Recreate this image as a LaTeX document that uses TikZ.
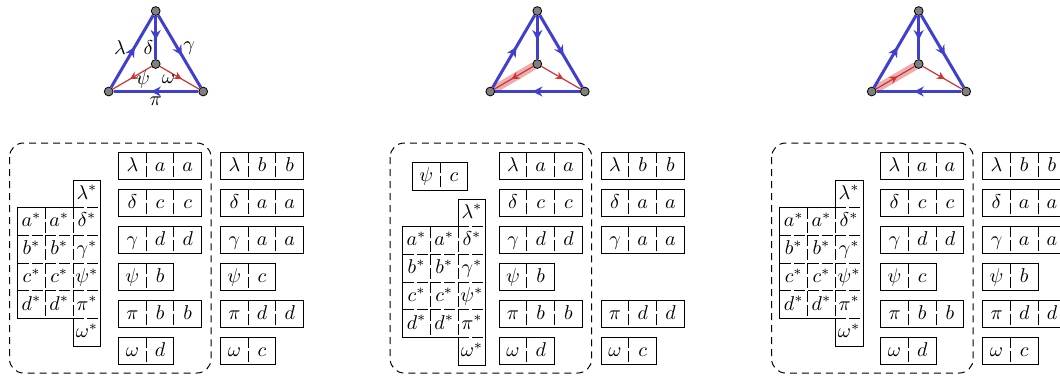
\documentclass[tikz,border=0pt]{standalone}
\usetikzlibrary{decorations.markings,arrows.meta}
\definecolor{edgeblue}{RGB}{64,64,204}
\definecolor{edgered}{RGB}{204,51,51}
\pgfdeclarelayer{bg}
\pgfsetlayers{bg,main}
\tikzset{
  boxline/.style={line width=0.5pt},
  innerline/.style={line width=0.45pt, dash pattern=on 5.5pt off 1.5pt},
  panel/.style={line width=0.5pt, dash pattern=on 3.5pt off 2.5pt, rounded corners=7pt},
  cell/.style={inner sep=0pt, text height=1.5ex, text depth=0.25ex},
  bedge/.style={edgeblue, line width=1.5pt, postaction={decorate},
    decoration={markings, mark=at position 0.56 with {\arrow{Stealth[length=5pt,width=5pt,inset=1.6pt]}}}},
  redge/.style={edgered, line width=0.6pt, postaction={decorate},
    decoration={markings, mark=at position 0.56 with {\arrow{Stealth[length=4pt,width=4pt,inset=1.4pt]}}}},
  vtx/.style={circle, draw=black, fill=gray, line width=0.4pt, inner sep=0pt, minimum size=4.4pt},
  hilite/.style={edgered, line width=4pt, opacity=0.4, line cap=round},
  lab/.style={inner sep=0pt}
}
\newcommand\csz{27.7}
\newcommand\rowthree[6]{%
  \draw[boxline] (#2,#3) rectangle ({#2+3*\csz},{#3+\csz});
  \draw[innerline] ({#2+\csz},#3) -- ({#2+\csz},{#3+\csz});
  \draw[innerline] ({#2+2*\csz},#3) -- ({#2+2*\csz},{#3+\csz});
  \node[cell] (#1-1) at ({#2+0.5*\csz},{#3+0.5*\csz}) {$#4$};
  \node[cell] (#1-2) at ({#2+1.5*\csz},{#3+0.5*\csz}) {$#5$};
  \node[cell] (#1-3) at ({#2+2.5*\csz},{#3+0.5*\csz}) {$#6$};
}
\newcommand\rowtwo[5]{%
  \draw[boxline] (#2,#3) rectangle ({#2+2*\csz},{#3+\csz});
  \draw[innerline] ({#2+\csz},#3) -- ({#2+\csz},{#3+\csz});
  \node[cell] (#1-1) at ({#2+0.5*\csz},{#3+0.5*\csz}) {$#4$};
  \node[cell] (#1-2) at ({#2+1.5*\csz},{#3+0.5*\csz}) {$#5$};
}
\newcommand\startab[3]{%
  \draw[boxline] ({#2+2*\csz},#3) -- ({#2+3*\csz},#3) -- ({#2+3*\csz},{#3+6*\csz})
    -- ({#2+2*\csz},{#3+6*\csz}) -- ({#2+2*\csz},{#3+5*\csz}) -- (#2,{#3+5*\csz})
    -- (#2,{#3+\csz}) -- ({#2+2*\csz},{#3+\csz}) -- cycle;
  \draw[innerline] ({#2+2*\csz},{#3+\csz}) -- ++(\csz,0);
  \draw[innerline] ({#2+2*\csz},{#3+5*\csz}) -- ++(\csz,0);
  \foreach \r in {2,3,4}{\foreach \c in {0,1,2}{
    \draw[innerline] ({#2+\c*\csz},{#3+\r*\csz}) -- ++(\csz,0);}}
  \foreach \r in {1,2,3,4}{\foreach \c in {1,2}{
    \draw[innerline] ({#2+\c*\csz},{#3+\r*\csz}) -- ++(0,\csz);}}
  \node[cell] (#1-top) at ({#2+2.5*\csz},{#3+0.5*\csz}) {$\lambda^*$};
  \foreach \r/\L/\G in {1/a/\delta,2/b/\gamma,3/c/\psi,4/d/\pi}{
    \node[cell] (#1-\r-1) at ({#2+0.5*\csz},{#3+(\r+0.5)*\csz}) {$\L^*$};
    \node[cell] (#1-\r-2) at ({#2+1.5*\csz},{#3+(\r+0.5)*\csz}) {$\L^*$};
    \node[cell] (#1-\r-3) at ({#2+2.5*\csz},{#3+(\r+0.5)*\csz}) {$\G^*$};
  }
  \node[cell] (#1-bot) at ({#2+2.5*\csz},{#3+5.5*\csz}) {$\omega^*$};
}
\newcommand\trinodes[2]{%
  \node[vtx] (#1t) at (#2,11) {};
  \node[vtx] (#1c) at (#2,64) {};
  \node[vtx] (#1l) at ({#2-47},91.5) {};
  \node[vtx] (#1r) at ({#2+47.5},91.5) {};
  \draw[bedge] (#1l) -- (#1t);
  \draw[bedge] (#1t) -- (#1c);
  \draw[bedge] (#1t) -- (#1r);
  \draw[bedge] (#1r) -- (#1l);
  \draw[redge] (#1c) -- (#1r);
}
\begin{document}
\begin{tikzpicture}[x=0.5pt,y=-0.5pt]
\useasboundingbox (0,0) rectangle (1060,376);
\clip (0,0) rectangle (1060,376);

% ---------- triangles ----------
\trinodes{A}{155.7}
\draw[redge] (Ac) -- (Al);
\node[lab] (Alam) at (120,48) {$\lambda$};
\node[lab] (Adel) at (148.5,48) {$\delta$};
\node[lab] (Agam) at (189,48) {$\gamma$};
\node[lab] (Apsi) at (143,79) {$\psi$};
\node[lab] (Aome) at (168.5,79) {$\omega$};
\node[lab] (Api) at (155.7,101) {$\pi$};

\trinodes{B}{537.3}
\begin{pgfonlayer}{bg}\draw[hilite] (Bc) -- (Bl);\end{pgfonlayer}
\draw[redge] (Bc) -- (Bl);

\trinodes{C}{918.7}
\begin{pgfonlayer}{bg}\draw[hilite] (Cc) -- (Cl);\end{pgfonlayer}
\draw[redge] (Cl) -- (Cc);

% ---------- panel 1 ----------
\draw[panel] (9.5,143) rectangle (211,373);
\startab{P1s}{17.7}{180}
\rowthree{P1a1}{118.5}{152}{\lambda}{a}{a}
\rowthree{P1a2}{118.5}{189}{\delta}{c}{c}
\rowthree{P1a3}{118.5}{226}{\gamma}{d}{d}
\rowtwo{P1a4}{118.5}{263}{\psi}{b}
\rowthree{P1a5}{118.5}{300}{\pi}{b}{b}
\rowtwo{P1a6}{118.5}{337}{\omega}{d}
\rowthree{P1b1}{220.5}{152}{\lambda}{b}{b}
\rowthree{P1b2}{220.5}{189}{\delta}{a}{a}
\rowthree{P1b3}{220.5}{226}{\gamma}{a}{a}
\rowtwo{P1b4}{220.5}{263}{\psi}{c}
\rowthree{P1b5}{220.5}{300}{\pi}{d}{d}
\rowtwo{P1b6}{220.5}{337}{\omega}{c}

% ---------- panel 2 ----------
\draw[panel] (390.2,143) rectangle (591.7,373);
\rowtwo{P2x}{412.3}{162.3}{\psi}{c}
\startab{P2s}{402.7}{199}
\rowthree{P2a1}{499.2}{152}{\lambda}{a}{a}
\rowthree{P2a2}{499.2}{189}{\delta}{c}{c}
\rowthree{P2a3}{499.2}{226}{\gamma}{d}{d}
\rowtwo{P2a4}{499.2}{263}{\psi}{b}
\rowthree{P2a5}{499.2}{300}{\pi}{b}{b}
\rowtwo{P2a6}{499.2}{337}{\omega}{d}
\rowthree{P2b1}{601.2}{152}{\lambda}{b}{b}
\rowthree{P2b2}{601.2}{189}{\delta}{a}{a}
\rowthree{P2b3}{601.2}{226}{\gamma}{a}{a}
\rowthree{P2b5}{601.2}{300}{\pi}{d}{d}
\rowtwo{P2b6}{601.2}{337}{\omega}{c}

% ---------- panel 3 ----------
\draw[panel] (771.7,143) rectangle (973.2,373);
\startab{P3s}{779.9}{180}
\rowthree{P3a1}{880.7}{152}{\lambda}{a}{a}
\rowthree{P3a2}{880.7}{189}{\delta}{c}{c}
\rowthree{P3a3}{880.7}{226}{\gamma}{d}{d}
\rowtwo{P3a4}{880.7}{263}{\psi}{c}
\rowthree{P3a5}{880.7}{300}{\pi}{b}{b}
\rowtwo{P3a6}{880.7}{337}{\omega}{d}
\rowthree{P3b1}{982.7}{152}{\lambda}{b}{b}
\rowthree{P3b2}{982.7}{189}{\delta}{a}{a}
\rowthree{P3b3}{982.7}{226}{\gamma}{a}{a}
\rowtwo{P3b4}{982.7}{263}{\psi}{b}
\rowthree{P3b5}{982.7}{300}{\pi}{d}{d}
\rowtwo{P3b6}{982.7}{337}{\omega}{c}
\end{tikzpicture}
\end{document}
